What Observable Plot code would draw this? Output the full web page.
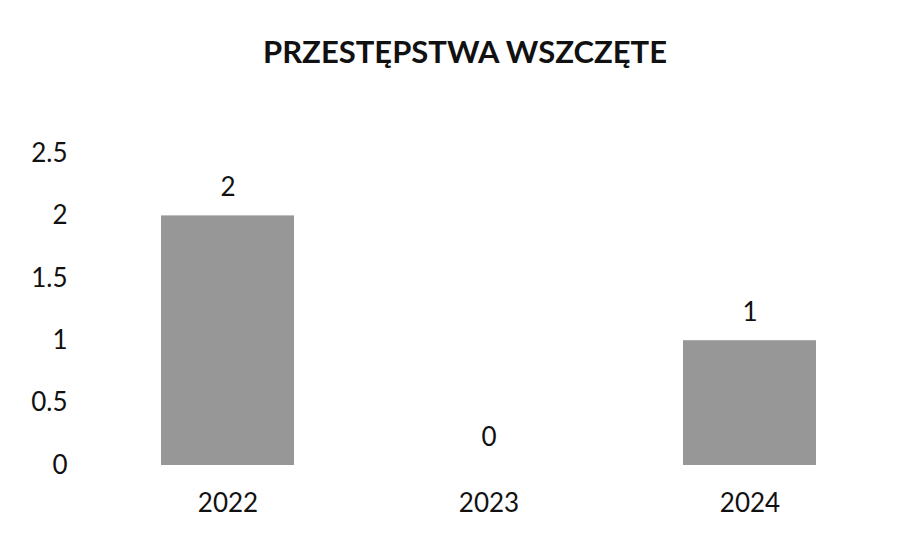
<!DOCTYPE html>
<html>
<head>
<meta charset="utf-8">
<script src="https://cdn.jsdelivr.net/npm/d3@7"></script>
<script src="https://cdn.jsdelivr.net/npm/@observablehq/plot@0.6"></script>
<style>
  html, body { margin: 0; padding: 0; background: #fff; }
  #chart svg { display: block; }
</style>
</head>
<body>
<div id="chart"></div>
<script>
const title = "PRZESTĘPSTWA WSZCZĘTE";
const years = ["2022", "2023", "2024"];
const values = [2, 0, 1];
const yTicks = [0, 0.5, 1, 1.5, 2, 2.5];

const data = years.map((y, i) => ({year: y, value: values[i]}));
const font = "Lato, 'Open Sans', sans-serif";

const chart = Plot.plot({
  width: 899,
  height: 541,
  marginTop: 153,
  marginBottom: 76,
  marginLeft: 97,
  marginRight: 19,
  style: {fontFamily: font, fontSize: "26px", color: "#111", background: "#fff"},
  x: {domain: years, paddingInner: 0.49, paddingOuter: 0.245, label: null},
  y: {domain: [0, 2.5], label: null},
  marks: [
    Plot.barY(data, {x: "year", y: "value", fill: "#979797"}),
    Plot.text(data, {x: "year", y: "value", text: d => String(d.value), dy: -28, fontSize: 26, fill: "#111"}),
    Plot.axisY({ticks: yTicks, tickFormat: d => String(d), tickSize: 0, tickPadding: 30, fontSize: 26}),
    Plot.axisX({tickSize: 0, tickPadding: 28, fontSize: 26}),
    Plot.text([title], {frameAnchor: "top", lineAnchor: "middle", dx: -24, dy: -100, fontSize: 31, fontWeight: "bold", fill: "#111"})
  ]
});
document.getElementById("chart").appendChild(chart);
</script>
</body>
</html>
